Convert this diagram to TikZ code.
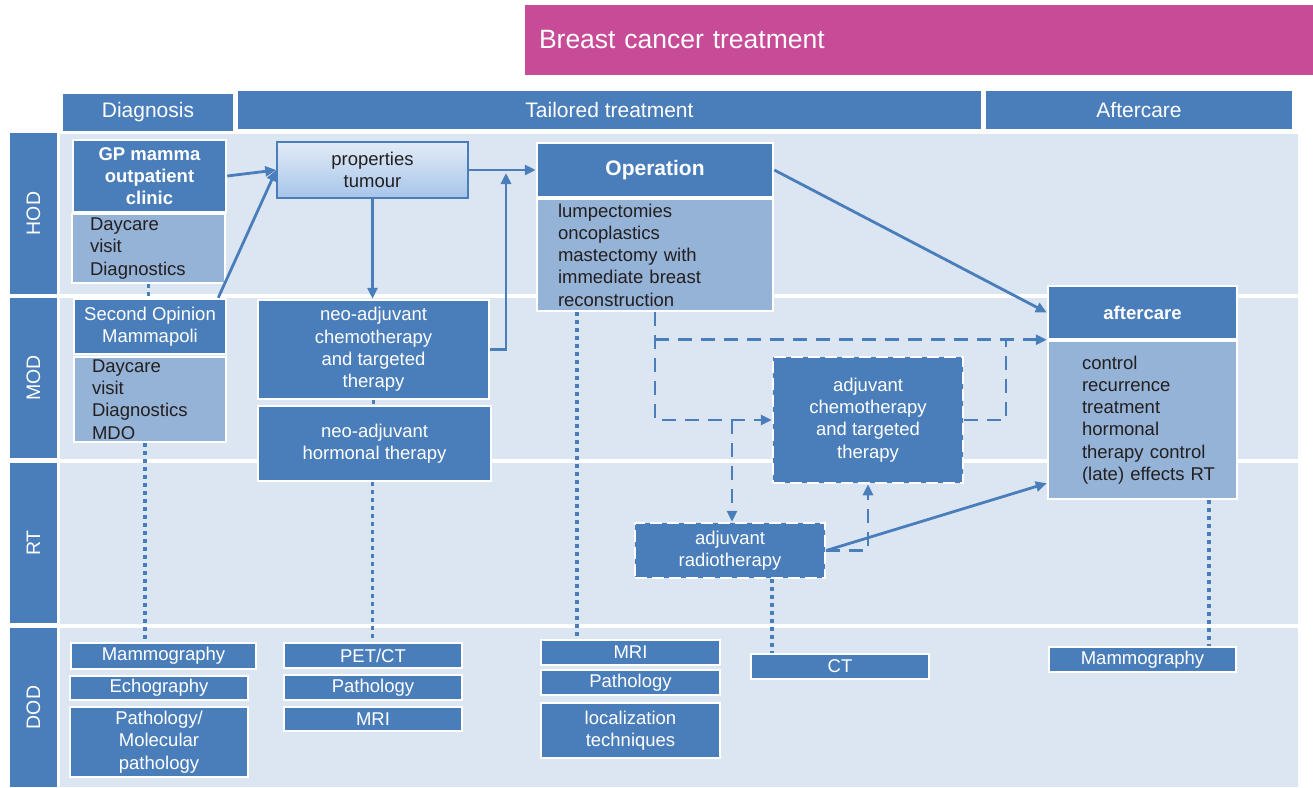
\documentclass[tikz,border=0pt]{standalone}
\usepackage{fontspec}
\setmainfont{Liberation Sans}
\usetikzlibrary{arrows.meta,calc}
\definecolor{dkb}{HTML}{4A7EBB}
\definecolor{lane}{HTML}{DCE6F2}
\definecolor{mdb}{HTML}{95B3D7}
\definecolor{txt}{HTML}{231F20}
\definecolor{mag}{HTML}{C84B98}
\definecolor{gtop}{HTML}{E2EBF6}
\definecolor{gbot}{HTML}{A6C5EA}
\begin{document}
\begin{tikzpicture}[x=1pt,y=-1pt,
  body/.style={font=\fontsize{18.5pt}{22.3pt}\selectfont},
  boldbody/.style={font=\fontsize{18.5pt}{22.3pt}\selectfont\bfseries},
  dk/.style={body, fill=dkb, draw=white, line width=2.5pt, text=white, align=center, inner sep=0pt},
  lt/.style={body, fill=mdb, draw=white, line width=2.5pt, text=txt, align=left, inner sep=0pt},
  dashbox/.style={dk, dash pattern=on 12pt off 5pt},
  hd/.style={fill=dkb, draw=white, line width=2pt, text=white, inner sep=0pt, font=\fontsize{21pt}{25pt}\selectfont},
  lanelab/.style={fill=dkb, text=white, inner sep=0pt, rotate=90, font=\fontsize{19.5pt}{23pt}\selectfont},
  arr/.style={draw=dkb, line width=2.8pt, -{Triangle[length=11pt,width=10pt]}},
  dsh/.style={draw=dkb, line width=2.8pt, dash pattern=on 14pt off 9pt},
  dotl/.style={draw=dkb, line width=3.5pt, dash pattern=on 3.5pt off 4.5pt}
]
\useasboundingbox (0,0) rectangle (1313,787);
\fill[white] (0,0) rectangle (1313,787);

% title
\node[fill=mag, text=white, minimum width=788pt, minimum height=70pt, inner sep=0pt,
      text width=760pt, align=left, font=\fontsize{26.5pt}{30pt}\selectfont] (title) at (919,40) {Breast cancer treatment};

% lanes
\fill[lane] (60,134) rectangle (1298,294);
\fill[lane] (60,298) rectangle (1298,459);
\fill[lane] (60,463) rectangle (1298,624);
\fill[lane] (60,628) rectangle (1298,787);

% headers
\node[hd, minimum width=172pt, minimum height=39pt] (hdiag) at (148,112.5) {Diagnosis};
\node[hd, minimum width=745pt, minimum height=40pt] (htail) at (609.5,110) {Tailored treatment};
\node[hd, minimum width=308pt, minimum height=40pt] (haft) at (1139,110) {Aftercare};

% lane labels
\node[lanelab, minimum width=161pt, minimum height=47pt] (lhod) at (33.5,213.5) {HOD};
\node[lanelab, minimum width=160pt, minimum height=47pt] (lmod) at (33.5,378) {MOD};
\node[lanelab, minimum width=160pt, minimum height=47pt] (lrt) at (33.5,543) {RT};
\node[lanelab, minimum width=159pt, minimum height=47pt] (ldod) at (33.5,707.5) {DOD};

% HOD
\node[dk, boldbody, minimum width=153pt, minimum height=72pt] (gp) at (149.5,176) {GP mamma\\outpatient\\clinic};
\node[lt, minimum width=153pt, minimum height=69pt, text width=117pt] (day1) at (148.5,248.5) {Daycare\\visit\\Diagnostics};
\node[body, text=txt, align=center, minimum width=191pt, minimum height=56pt, inner sep=0pt,
      top color=gtop, bottom color=gbot, draw=dkb, line width=1.5pt] (props) at (372.5,170) {properties\\tumour};
\node[dk, font=\fontsize{21pt}{25pt}\selectfont\bfseries, minimum width=236pt, minimum height=54pt] (op) at (655,170) {Operation};
\node[lt, minimum width=236pt, minimum height=112pt, text width=194pt] (opsub) at (655,255) {lumpectomies\\oncoplastics\\mastectomy with\\immediate breast\\reconstruction};
\node[dk, boldbody, minimum width=189pt, minimum height=53pt] (after) at (1142.5,312.5) {aftercare};
\node[lt, minimum width=189pt, minimum height=158pt, text width=121pt] (aftersub) at (1142.5,420) {control\\recurrence\\treatment\\hormonal\\\mbox{therapy control}\\\mbox{(late) effects RT}};

% MOD
\node[dk, minimum width=152pt, minimum height=55pt] (so) at (150,326.5) {Second Opinion\\Mammapoli};
\node[lt, minimum width=152pt, minimum height=85pt, text width=116pt] (day2) at (150,399.5) {Daycare\\visit\\Diagnostics\\MDO};
\node[dk, minimum width=231pt, minimum height=99pt] (nac) at (373.5,349.5) {neo-adjuvant\\chemotherapy\\and targeted\\therapy};
\node[dk, minimum width=233pt, minimum height=75pt] (nah) at (374.5,443.5) {neo-adjuvant\\hormonal therapy};
\node[dashbox, minimum width=190pt, minimum height=126pt] (ac) at (868,420) {adjuvant\\chemotherapy\\and targeted\\therapy};

% RT
\node[dashbox, minimum width=190pt, minimum height=55pt] (ar) at (730,550.5) {adjuvant\\radiotherapy};

% DOD
\node[dk, minimum width=185pt, minimum height=26pt] (m1) at (163.5,656) {Mammography};
\node[dk, minimum width=178pt, minimum height=24pt] (e1) at (159,688) {Echography};
\node[dk, minimum width=178pt, minimum height=70pt] (p1) at (159,742) {Pathology/\\Molecular\\pathology};
\node[dk, minimum width=178pt, minimum height=25pt] (pet) at (373,655.5) {PET/CT};
\node[dk, minimum width=178pt, minimum height=25pt] (p2) at (373,687.5) {Pathology};
\node[dk, minimum width=178pt, minimum height=24pt] (mri1) at (373,719) {MRI};
\node[dk, minimum width=179pt, minimum height=25pt] (mri2) at (630.5,652.5) {MRI};
\node[dk, minimum width=179pt, minimum height=25pt] (p3) at (630.5,682.5) {Pathology};
\node[dk, minimum width=179pt, minimum height=55pt] (loc) at (630.5,730.5) {localization\\techniques};
\node[dk, minimum width=178pt, minimum height=25pt] (ct) at (840,666.5) {CT};
\node[dk, minimum width=187pt, minimum height=25pt] (m2) at (1142.5,659.5) {Mammography};

% helper coordinates
\coordinate (j) at (506,173);
\coordinate (k) at (1006,341);

% solid connectors
\draw[arr] (gp.east) -- (props.west);
\draw[arr] ([xshift=-9pt]so.north east) -- (props.west);
\draw[arr] (props.south) -- (props.south |- nac.north);
\draw[arr] (props.east) -- (op.west);
\draw[arr] (nac.east) -| (j);
\draw[arr] (op.east) -- (after.west);
\draw[arr] (ar.east) -- ([yshift=17pt]aftersub.south west);

% dashed connectors
\draw[dsh, -{Triangle[length=11pt,width=10pt]}] (opsub.south) |- (ac.west);
\draw[dsh, -{Triangle[length=11pt,width=10pt]}] (opsub.south |- aftersub.north west) -- (aftersub.north west);
\draw[dsh] (ac.east) -| (k);
\draw[dsh, -{Triangle[length=11pt,width=10pt]}] ([xshift=2pt]ar.north |- ac.west) -- ([xshift=2pt]ar.north);
\draw[dsh, -{Triangle[length=11pt,width=10pt]}] (ar.east) -| (ac.south);

% dotted connectors
\draw[dotl] (day1.south) -- (day1.south |- so.north);
\draw[dotl] ([xshift=-5pt]day2.south) -- ([xshift=-5pt]day2.south |- m1.north);
\draw[dotl] (nac.south) -- (nac.south |- nah.north);
\draw[dotl] ([xshift=-2pt]nah.south) -- ([xshift=-2pt]nah.south |- pet.north);
\draw[dotl] ([xshift=41pt]opsub.south west) -- ([xshift=41pt]opsub.south west |- mri2.north);
\draw[dotl] ([xshift=42pt]ar.south) -- ([xshift=42pt]ar.south |- ct.north);
\draw[dotl] ([xshift=66.5pt]aftersub.south) -- ([xshift=66.5pt]aftersub.south |- m2.north);
\end{tikzpicture}
\end{document}
